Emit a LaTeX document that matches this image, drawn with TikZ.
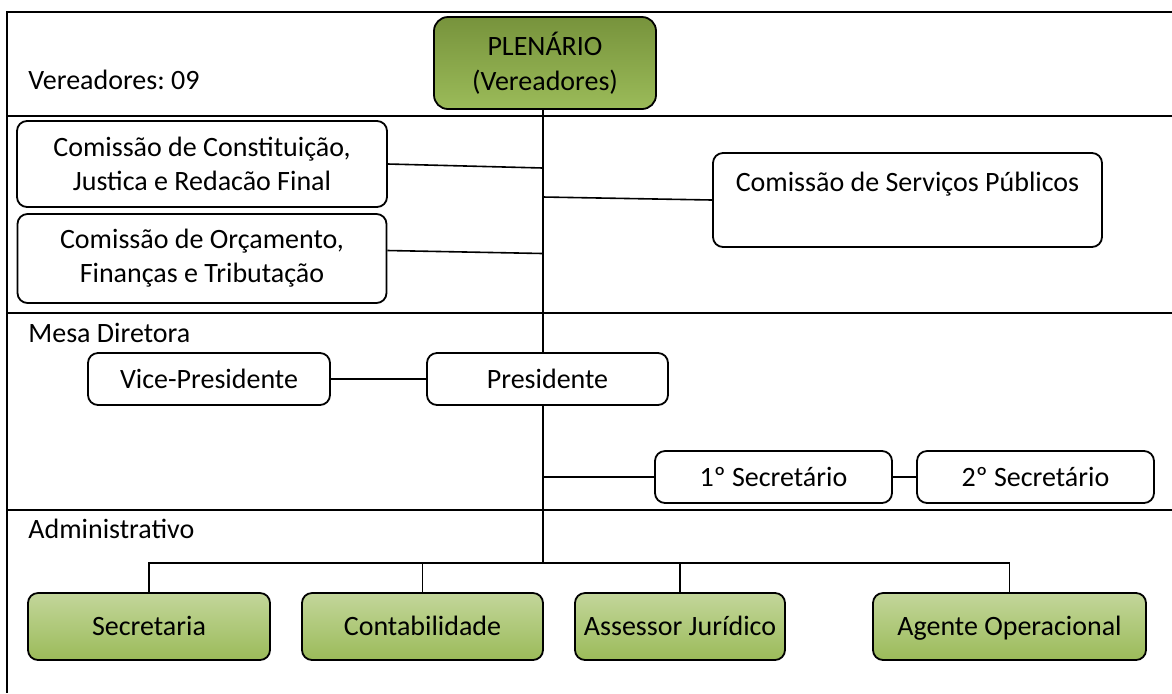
\documentclass[tikz,border=0pt]{standalone}
\usepackage{fontspec}
\setmainfont{Carlito}
\frenchspacing
\usetikzlibrary{calc}

\begin{document}
\begin{tikzpicture}[x=0.5pt, y=-0.5pt]
        \tikzset{frame/.style={line width=1.1pt, black},
            box/.style={draw, line width=0.9pt, rounded corners=5pt, fill=white,
                font=\fontsize{14}{17}\selectfont, align=center, inner sep=0pt},
            single/.style={box, text height=11pt, text depth=2pt},
            link/.style={line width=0.8pt},
            tag/.style={anchor=west, inner sep=0pt, font=\fontsize{14}{17}\selectfont}}
        \definecolor{plentop}{HTML}{77933C}
        \definecolor{plenbot}{HTML}{9BBB59}
        \definecolor{admtop}{HTML}{C3D69B}
        \definecolor{admbot}{HTML}{9BBB59}

        \useasboundingbox (0, 0) rectangle (1172, 693);

        \draw[frame] (1172, 12) -- (7, 12) -- (7, 693);
        \draw[frame] (7, 116) -- (1172, 116);
        \draw[frame] (7, 313) -- (1172, 313);
        \draw[frame] (7, 510) -- (1172, 510);

        \node[tag] (vereadores) at (28, 80) {Vereadores: 09};
        \node[tag] (mesa) at (28, 333) {Mesa Diretora};
        \node[tag] (adm) at (28, 529) {Administrativo};

        \node[box, rounded corners=7pt, top color=plentop, bottom color=plenbot,
            minimum width=111pt, minimum height=46pt, font=\fontsize{14}{17.5}\selectfont]
            (plenario) at (545, 63) {PLENÁRIO\\(Vereadores)};

        \node[box, minimum width=185pt, minimum height=43pt] (constituicao) at (202, 164)
            {Comissão de Constituição,\\Justica e Redacão Final};
        \node[box, minimum width=184.5pt, minimum height=44.5pt] (orcamento) at (202, 258.5)
            {Comissão de Orçamento,\\Finanças e Tributação};
        \node[box, minimum width=194.5pt, minimum height=47pt] (servicos) at (907.5, 200)
            {Comissão de Serviços Públicos\\[-4pt]\strut};

        \node[single, minimum width=120.5pt, minimum height=26pt] (presidente) at (547.5, 379) {Presidente};
        \node[single, minimum width=121pt, minimum height=26pt] (vice) at (209, 379) {Vice-Presidente};
        \node[single, minimum width=118.5pt, minimum height=26pt] (sec1) at (773.5, 477) {1º Secretário};
        \node[single, minimum width=118.5pt, minimum height=26pt] (sec2) at (1035.5, 477) {2º Secretário};

        \tikzset{admbox/.style={single, top color=admtop, bottom color=admbot, minimum height=33.5pt}}
        \node[admbox, minimum width=121pt] (secretaria) at (149, 626.5) {Secretaria};
        \node[admbox, minimum width=120.5pt] (contab) at (422.5, 626.5) {Contabilidade};
        \node[admbox, minimum width=105pt] (assessor) at (680, 626.5) {Assessor Jurídico};
        \node[admbox, minimum width=136.5pt] (agente) at (1009.5, 626.5) {Agente Operacional};

        \coordinate (trunk) at (543, 0);
        \coordinate (bus) at (543, 563);

        \draw[link] (plenario.south -| trunk) -- (presidente.north -| trunk);
        \draw[link] (presidente.south -| trunk) -- (bus);
        \draw[link] (constituicao.east) -- ($(trunk |- constituicao.east) + (0, 4)$);
        \draw[link] ($(orcamento.east) + (0, -8)$) -- ($(trunk |- orcamento.east) + (0, -5)$);
        \draw[link] ($(trunk |- servicos.west) + (0, -3)$) -- (servicos.west);
        \draw[link] (vice) -- (presidente);
        \draw[link] (trunk |- sec1.west) -- (sec1.west);
        \draw[link] (sec1) -- (sec2);

        \draw[link] (secretaria.north) |- (agente.north |- bus) -- (agente.north);
        \foreach \n in {contab, assessor}
            \draw[link] (\n.north) -- (\n.north |- bus);

    \end{tikzpicture}
\end{document}
